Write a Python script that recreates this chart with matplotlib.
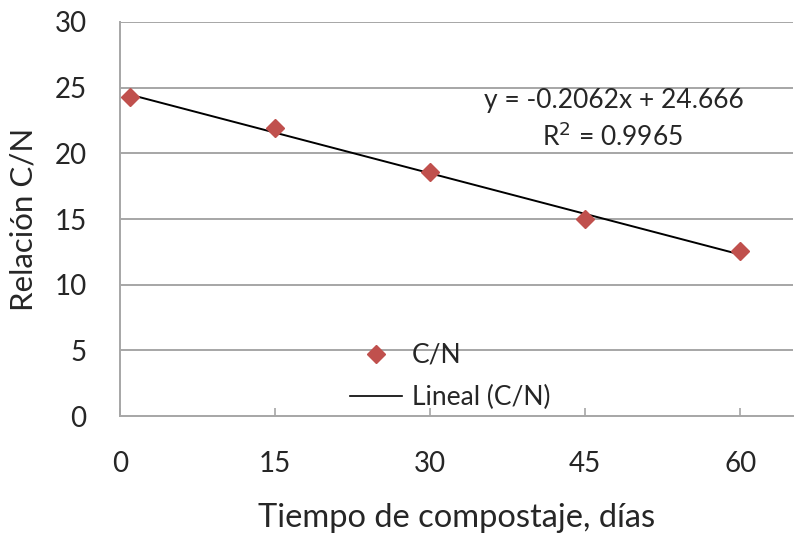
import numpy as np
import matplotlib
matplotlib.use("Agg")
import matplotlib.pyplot as plt
from matplotlib.lines import Line2D

# data
dias = [1, 15, 30, 45, 60]
relacion_cn = [24.3, 21.9, 18.6, 15.0, 12.6]
x_ticks = [0, 15, 30, 45, 60]
y_ticks = [0, 5, 10, 15, 20, 25, 30]

# trend line from the label
pendiente = -0.2062
intercepto = 24.666
r2 = 0.9965

plt.rcParams['font.family'] = ['Lato', 'DejaVu Sans']
txt_col = '#262626'

fig = plt.figure(figsize=(7.95, 5.35), dpi=100)
ax = fig.add_axes([0.151, 0.2224, 0.8465, 0.7365])

grid_col = '#a6a6a6'
ax.set_xlim(0, 65.1)
ax.set_ylim(0, 30)
ax.set_yticks(y_ticks)
ax.set_xticks(x_ticks)
for yv in y_ticks[1:]:
    ax.axhline(yv, color=grid_col, lw=1.4, zorder=1)

xt = np.array([dias[0], dias[-1]])
ax.plot(xt, pendiente * xt + intercepto, color='black', lw=1.4, zorder=2)
ax.plot(dias, relacion_cn, linestyle='none', marker='D', ms=9.5,
        color='#c0504d', zorder=3)

for s in ['top', 'right']:
    ax.spines[s].set_visible(False)
for s in ['left', 'bottom']:
    ax.spines[s].set_color(grid_col)
    ax.spines[s].set_linewidth(1.4)

ax.tick_params(axis='x', direction='in', length=6, width=1.2, color=grid_col,
               pad=25, labelsize=20, labelcolor=txt_col)
ax.tick_params(axis='y', length=0, pad=24, labelsize=20, labelcolor=txt_col)

ax.set_xlabel('Tiempo de compostaje, días', fontsize=23.5, color=txt_col, labelpad=19)
ax.set_ylabel('Relación C/N', fontsize=22.5, color=txt_col, labelpad=12)

ax.text(47.8, 24.05, f'y = {pendiente}x + {intercepto}', fontsize=19, color=txt_col,
        ha='center', va='center')
ax.text(47.6, 21.25, f'R$^2$ = {r2}', fontsize=19, color=txt_col,
        ha='center', va='center')

handles = [Line2D([], [], linestyle='none', marker='D', ms=9.5, color='#c0504d'),
           Line2D([], [], color='black', lw=1.2)]
ax.legend(handles, ['C/N', 'Lineal (C/N)'], loc='center', bbox_to_anchor=(0.49, 0.1),
          frameon=False, fontsize=19, handlelength=2.0, handletextpad=0.35,
          labelspacing=0.65, borderpad=0, labelcolor=txt_col)

fig.savefig('out.png', dpi=100)
